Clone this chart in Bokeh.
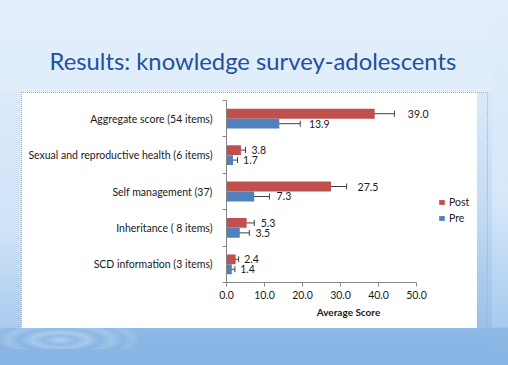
import numpy as np
from bokeh.plotting import figure
from bokeh.models import (ColumnDataSource, Range1d, FixedTicker, GlobalInlineStyleSheet,
                          NumeralTickFormatter, Whisker, TeeHead, Legend, LegendItem)
from bokeh.core.properties import value
from bokeh.embed import file_html
from bokeh.resources import INLINE

# ---- data (bottom to top, as drawn) ----
categories = ["SCD information (3 items)", "Inheritance ( 8 items)", "Self management (37)",
              "Sexual and reproductive health (6 items)", "Aggregate score (54 items)"]
post_values = [2.4, 5.3, 27.5, 3.8, 39.0]
pre_values = [1.4, 3.5, 7.3, 1.7, 13.9]
post_err = [0.8, 2.0, 4.1, 1.2, 5.2]
pre_err = [0.8, 2.5, 4.0, 1.2, 5.5]
series = ["Post", "Pre"]
x_ticks = [0, 10, 20, 30, 40, 50]
title_text = "Results: knowledge survey-adolescents"
x_title = "Average Score"

FONT = "Lato"
RED = "#C0504D"
BLUE = "#4F81BD"
W, H = 492, 349

idx = np.arange(len(categories)) + 0.5
shift = 0.137
bh = 0.27

def make_src(vals, errs, sgn):
    v = np.array(vals); e = np.array(errs)
    return ColumnDataSource(dict(
        y=idx + sgn * shift, v=v, lo=v - e, hi=v + e,
        lx=(v + e) * 1.05, lab=["%.1f" % t for t in v]))

src_post = make_src(post_values, post_err, +1)
src_pre = make_src(pre_values, pre_err, -1)

# frame: x 226..470 px (0..50 spans 190 px), y 100..282 px
p = figure(width=W, height=H, output_backend="svg", toolbar_location=None,
           x_range=Range1d(0, 50 * 244 / 190), y_range=Range1d(0, len(categories)),
           min_border_left=226, min_border_right=22, min_border_top=100, min_border_bottom=67,
           title=title_text)
p.border_fill_alpha = 0
p.background_fill_color = "white"
p.outline_line_color = None
p.xgrid.visible = False
p.ygrid.visible = False

p.title.align = "left"
p.title.offset = -177
p.title.text_font = FONT
p.title.text_font_size = "23.8px"
p.title.text_font_style = "normal"
p.title.text_color = "#24509C"
p.title.standoff = 52

# slide background (CSS layers, top first)
dots_h = "repeating-linear-gradient(to right, #A8A8A8 0 1px, transparent 1px 2px)"
dots_v = "repeating-linear-gradient(to bottom, #A8A8A8 0 1px, transparent 1px 2px)"
dots_h2 = "repeating-linear-gradient(to right, #9FB3C8 0 1px, transparent 1px 2px)"
dots_v2 = "repeating-linear-gradient(to bottom, #9FB3C8 0 1px, transparent 1px 2px)"
ripple = ("radial-gradient(ellipse 80px 22px at 60px 12px, rgba(255,255,255,0.35) 0%, "
          "rgba(255,255,255,0.05) 20%, rgba(255,255,255,0.25) 35%, rgba(255,255,255,0) 50%, "
          "rgba(255,255,255,0.18) 65%, rgba(255,255,255,0) 80%, rgba(255,255,255,0.12) 90%, "
          "rgba(255,255,255,0) 100%)")
layers = [
    f"{dots_h} 21px 92px / 456px 1px no-repeat",
    f"{dots_v} 21px 92px / 1px 236px no-repeat",
    f"{dots_h2} 477px 92px / 11px 1px no-repeat",
    f"{dots_v2} 487px 92px / 1px 257px no-repeat",
    "linear-gradient(#FFFFFF, #FFFFFF) 21px 92px / 456px 236px no-repeat",
    f"{ripple} 0px 328px / 220px 30px no-repeat",
    "linear-gradient(to bottom, #90BAE6, #86B4E3) 0px 328px / 100% 21px no-repeat",
    "linear-gradient(to bottom, #D9E9F9, #C3DBF4 50%, #99C0E9) 477px 92px / 15px 236px no-repeat",
    "linear-gradient(to bottom, #DCEAFA, #CFE2F7 60%, #A9CCEE) 0px 92px / 21px 236px no-repeat",
    "linear-gradient(to bottom, #E2EEFB, #DAE9FA) 0px 0px / 100% 100% no-repeat",
]
p.styles = {"background": ", ".join(layers)}
p.stylesheets = [GlobalInlineStyleSheet(css=(
    "html{min-height:100%;background-color:#8DB8E5;"
    "background-image:linear-gradient(to bottom, #E2EEFB 0px, #D6E7F9 200px, #A6CBEE 327px,"
    " #8FB9E6 328px, #86B4E3 365px);background-size:100% 365px;background-repeat:no-repeat;}"
))]

r_post = p.hbar(y="y", left=0, right="v", height=bh, source=src_post, fill_color=RED,
                line_color=None)
r_pre = p.hbar(y="y", left=0, right="v", height=bh, source=src_pre, fill_color=BLUE,
               line_color=None)

for src in (src_post, src_pre):
    p.add_layout(Whisker(source=src, base="y", lower="lo", upper="hi", dimension="width",
                         line_color="#404040", line_width=1,
                         lower_head=TeeHead(size=6, line_color="#404040", line_width=1),
                         upper_head=TeeHead(size=6, line_color="#404040", line_width=1)))
    p.text(x="lx", y="y", text="lab", source=src, x_offset=5, text_font=value(FONT),
           text_font_size="10.5px", text_color="#1A1A1A", text_baseline="middle",
           text_align="left")

# axes
xa = p.xaxis[0]
xa.ticker = FixedTicker(ticks=x_ticks)
xa.bounds = (x_ticks[0], x_ticks[-1])
xa.formatter = NumeralTickFormatter(format="0.0")
xa.axis_line_color = "#868686"
xa.major_tick_line_color = "#868686"
xa.major_tick_out = 4
xa.major_tick_in = 0
xa.minor_tick_line_color = None
xa.major_label_standoff = 4
xa.major_label_text_font = FONT
xa.major_label_text_font_size = "10.5px"
xa.major_label_text_color = "#1A1A1A"
xa.axis_label = x_title
xa.axis_label_text_font = FONT
xa.axis_label_text_font_size = "10px"
xa.axis_label_text_font_style = "bold"
xa.axis_label_text_color = "#1A1A1A"
xa.axis_label_standoff = 4

ya = p.yaxis[0]
ya.ticker = FixedTicker(ticks=list(idx), minor_ticks=list(np.arange(len(categories) + 1)))
ya.major_label_overrides = {float(t): c for t, c in zip(idx, categories)}
ya.axis_line_color = "#868686"
ya.major_tick_line_color = None
ya.major_tick_out = 4
ya.minor_tick_line_color = "#868686"
ya.minor_tick_out = 4
ya.minor_tick_in = 0
ya.major_label_standoff = 10
ya.major_label_text_font = FONT
ya.major_label_text_font_size = "10.5px"
ya.major_label_text_color = "#1A1A1A"

legend = Legend(items=[LegendItem(label=series[0], renderers=[r_post]),
                       LegendItem(label=series[1], renderers=[r_pre])],
                location=(212, 58), orientation="vertical", glyph_width=7, glyph_height=6,
                label_text_font=FONT, label_text_font_size="10.5px", label_text_color="#1A1A1A",
                label_standoff=4, spacing=4, padding=0, margin=0,
                border_line_color=None, background_fill_alpha=0)
p.add_layout(legend, "center")

open("out.html", "w").write(file_html(p, INLINE))
